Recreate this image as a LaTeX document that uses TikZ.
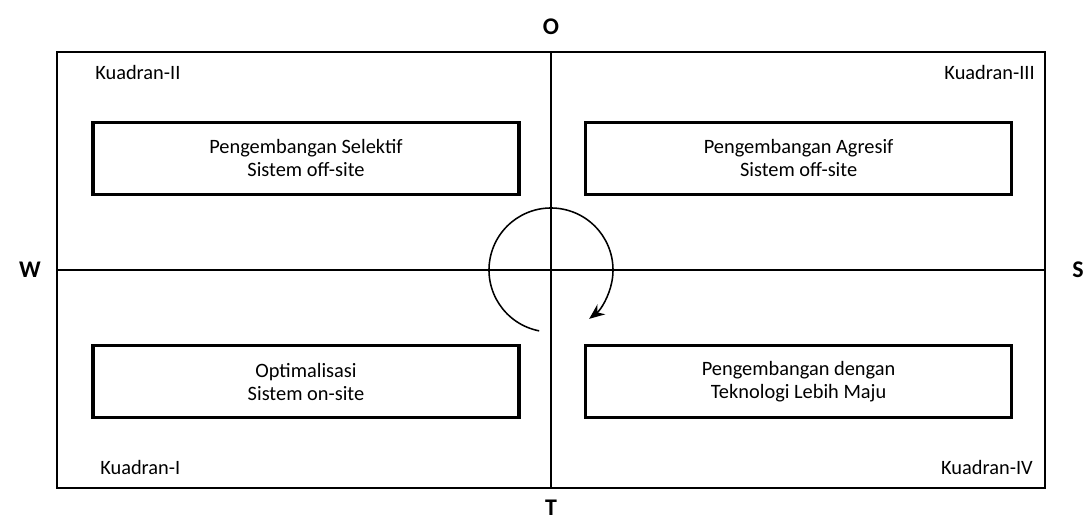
\documentclass[tikz,border=0pt]{standalone}
\usepackage{fontspec}
\setmainfont{Carlito}
\usetikzlibrary{arrows.meta,positioning,calc}

\tikzset{
    frame/.style={draw, line width=1.3pt, minimum width=24.7cm, minimum height=10.9cm, inner sep=0pt},
    axis/.style={line width=1.2pt},
    strategy/.style={draw, line width=2.4pt, minimum width=10.65cm, minimum height=1.8cm, align=center, font=\fontsize{14.5}{16.5}\selectfont},
    quadrant/.style={font=\fontsize{14.5}{16}\selectfont, inner sep=0pt},
    pole/.style={font=\fontsize{17}{19}\selectfont\bfseries, inner sep=0pt}
}

\begin{document}
\begin{tikzpicture}[>=Stealth]
    \useasboundingbox (-13.775,-6.45) rectangle (13.45,6.75);
    \def\rCycle{1.55}

    % Outer frame and the two axes
    \node[frame] (frame) at (0,0) {};
    \draw[axis] (frame.north) -- (frame.south);
    \draw[axis] (frame.west) -- (frame.east);

    % Axis poles
    \node[pole] (o) at (0, 6.075) {O};
    \node[pole] (t) at (0, -5.95) {T};
    \node[pole] (w) at (-13.025, 0) {W};
    \node[pole] (s) at (13.175, 0) {S};

    % Quadrant names
    \node[quadrant, anchor=west] (q2) at (-11.4, 4.925) {Kuadran-II};
    \node[quadrant, anchor=east] (q3) at (12.1, 4.925) {Kuadran-III};
    \node[quadrant, anchor=west] (q1) at (-11.275, -4.925) {Kuadran-I};
    \node[quadrant, anchor=east] (q4) at (12.05, -4.925) {Kuadran-IV};

    % Strategy boxes
    \node[strategy] (selektif) at (-6.125, 2.79) {Pengembangan Selektif\\Sistem off-site};
    \node[strategy] (agresif) at (6.19, 2.79) {Pengembangan Agresif\\Sistem off-site};
    \node[strategy] (optimal) at (-6.125, -2.79) {Optimalisasi\\Sistem on-site};
    \node[strategy] (maju) at (6.19, -2.79) {Pengembangan dengan\\Teknologi Lebih Maju};

    % Clockwise cycle round the centre
    \coordinate (centre) at (0,0);
    \draw[line width=1.1pt, -{Stealth[length=11pt, width=9pt]}]
        ($(centre)+(259:\rCycle)$) arc (259:-52:\rCycle);
\end{tikzpicture}
\end{document}
